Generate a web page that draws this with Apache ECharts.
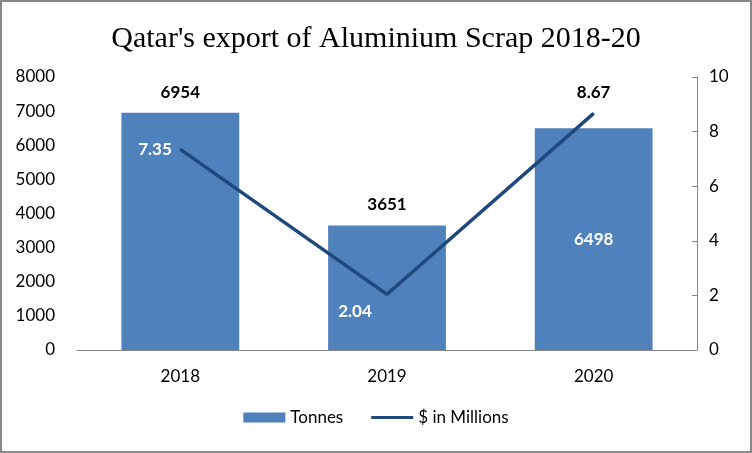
<!DOCTYPE html>
<html>
<head>
<meta charset="utf-8">
<script src="https://cdn.jsdelivr.net/npm/echarts@6/dist/echarts.min.js"></script>
<style>
  html, body { margin: 0; padding: 0; background: #fff; }
  #chart { width: 752px; height: 453px; }
</style>
</head>
<body>
<div id="chart"></div>
<script>
// data
var years = ["2018", "2019", "2020"];
var tonnes = [6954, 3651, 6498];
var millions = [7.35, 2.04, 8.67];

var font = "Lato, 'Noto Sans', sans-serif";

// label placement per point (style only)
var barLabels = [
  { position: "top", color: "#000" },
  { position: "top", color: "#000" },
  { position: "inside", color: "#fff" }
];
var lineLabels = [
  { position: "left", distance: 8, color: "#fff" },
  { position: "bottom", distance: 8, offset: [-32, 0], color: "#fff" },
  { position: "top", distance: 12, color: "#000" }
];

var chart = echarts.init(document.getElementById("chart"));
var option = {
  animation: false,
  title: {
    text: "Qatar's export of Aluminium Scrap 2018-20",
    left: "center",
    top: 19,
    textStyle: { fontFamily: "'Liberation Serif', serif", fontSize: 30, fontWeight: "normal", color: "#000" }
  },
  graphic: [{
    type: "rect",
    shape: { x: 1, y: 1, width: 750, height: 451 },
    style: { fill: "none", stroke: "#898989", lineWidth: 2 },
    silent: true
  }],
  legend: {
    bottom: 22,
    left: "center",
    itemGap: 28,
    itemWidth: 42,
    itemHeight: 10,
    textStyle: { fontFamily: font, fontSize: 17, color: "#000" },
    data: [
      { name: "Tonnes", icon: "rect" },
      { name: "$ in Millions", icon: "path://M0,0h42v3h-42z" }
    ]
  },
  grid: { left: 77, right: 55, top: 77, bottom: 103 },
  xAxis: {
    type: "category",
    data: years,
    axisLine: { lineStyle: { color: "#868686" } },
    axisTick: { show: false },
    axisLabel: { fontFamily: font, fontSize: 17, color: "#000", margin: 18 }
  },
  yAxis: [
    {
      type: "value",
      min: 0, max: 8000, interval: 1000,
      axisLine: { show: false },
      axisTick: { show: false },
      splitLine: { show: false },
      axisLabel: {
        fontFamily: font, fontSize: 17, color: "#000", margin: 22,
        formatter: function (v) { return String(v); }
      }
    },
    {
      type: "value",
      min: 0, max: 10, interval: 2,
      position: "right",
      axisLine: { show: true, lineStyle: { color: "#868686" } },
      axisTick: { show: true, inside: true, length: 5, lineStyle: { color: "#868686" } },
      splitLine: { show: false },
      axisLabel: { fontFamily: font, fontSize: 17, color: "#000", margin: 12 }
    }
  ],
  series: [
    {
      name: "Tonnes",
      type: "bar",
      barWidth: "57%",
      itemStyle: { color: "#4F81BD" },
      data: tonnes.map(function (v, i) {
        return {
          value: v,
          label: {
            show: true,
            position: barLabels[i].position,
            distance: 12,
            color: barLabels[i].color,
            fontFamily: font, fontSize: 17, fontWeight: "bold"
          }
        };
      })
    },
    {
      name: "$ in Millions",
      type: "line",
      yAxisIndex: 1,
      symbol: "circle",
      symbolSize: 1,
      lineStyle: { color: "#1F497D", width: 3.5 },
      itemStyle: { color: "#1F497D" },
      data: millions.map(function (v, i) {
        var l = lineLabels[i];
        return {
          value: v,
          label: {
            show: true,
            position: l.position,
            distance: l.distance,
            offset: l.offset || [0, 0],
            color: l.color,
            fontFamily: font, fontSize: 17, fontWeight: "bold"
          }
        };
      })
    }
  ]
};
chart.setOption(option);
</script>
</body>
</html>
